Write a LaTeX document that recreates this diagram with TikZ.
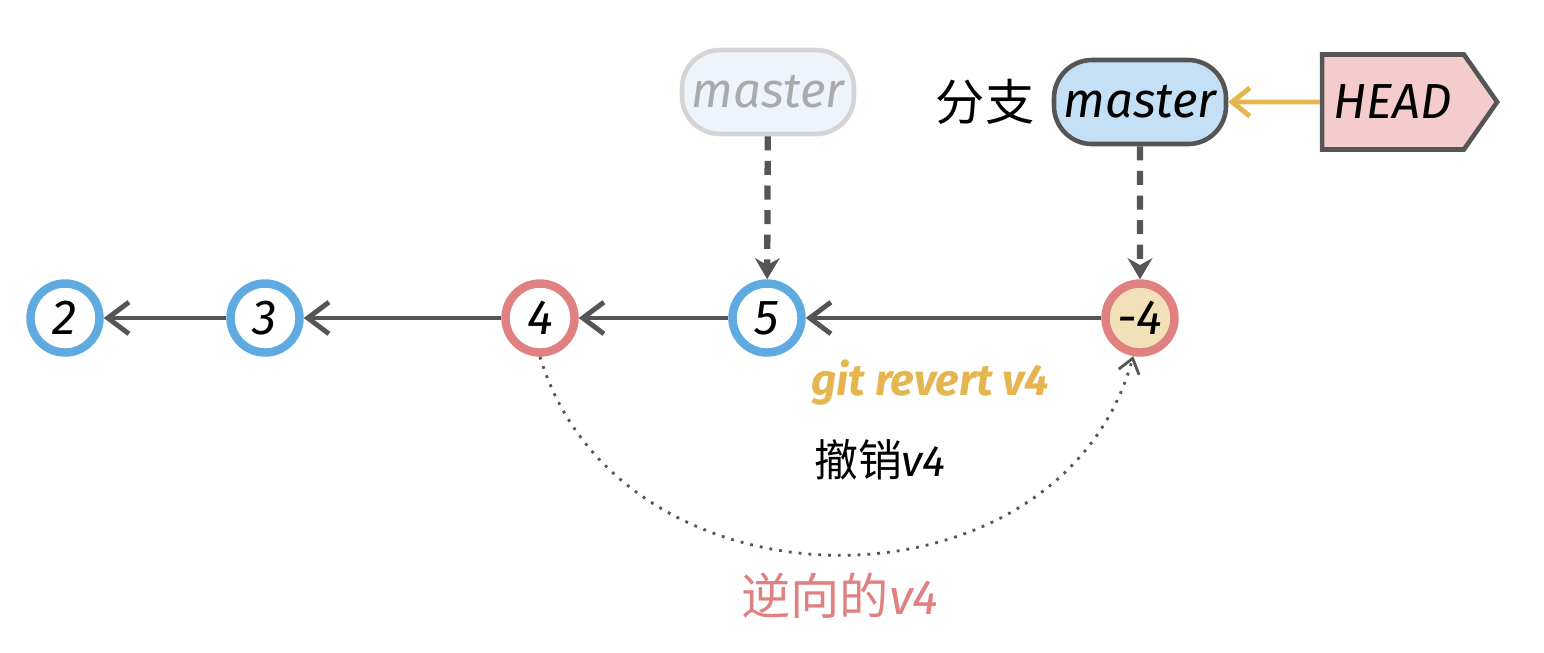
\documentclass[tikz,border=0pt]{standalone}
\usepackage{fontspec}
\setmainfont{Fira Sans}
\newfontfamily\cjk{Noto Sans CJK SC}
\usepackage{tikz}
\usetikzlibrary{arrows.meta,shapes.symbols}
\definecolor{ringblue}{RGB}{95,170,225}
\definecolor{ringred}{RGB}{225,128,128}
\definecolor{revfill}{RGB}{242,224,184}
\definecolor{linegray}{RGB}{85,85,85}
\definecolor{brfill}{RGB}{197,224,245}
\definecolor{ghostfill}{RGB}{237,244,251}
\definecolor{ghostline}{RGB}{212,212,212}
\definecolor{headfill}{RGB}{245,204,204}
\definecolor{cmdyellow}{RGB}{229,181,80}

\begin{document}
\begin{tikzpicture}[scale=0.2]
\tikzstyle{every node}+=[inner sep=0pt, font=\fontsize{14}{16}\selectfont\itshape]
\tikzstyle{commit}=[circle, draw, line width=2.4pt, fill=white, minimum size=0.69cm]
\tikzstyle{branch}=[rectangle, rounded corners=0.38cm, line width=1.3pt, minimum width=1.72cm, minimum height=0.84cm]
\tikzstyle{parent}=[draw=linegray, line width=1.4pt, -{Straight Barb[length=6pt,width=9pt]}]
\tikzstyle{points}=[draw=linegray, line width=1.8pt, dash pattern=on 4pt off 3pt, -{Stealth[length=6pt,width=7pt]}]
\useasboundingbox (0,0) rectangle (77.2,-32.6);
% commits
\node [commit, draw=ringblue] (c2) at (3.25,-15.9) {2};
\node [commit, draw=ringblue] (c3) at (13.25,-15.9) {3};
\node [commit, draw=ringred] (c4) at (27,-15.9) {4};
\node [commit, draw=ringblue] (c5) at (38.35,-15.9) {5};
\node [commit, draw=ringred, fill=revfill] (crev) at (57,-15.9) {-4};
% branches
\node [branch, draw=ghostline, fill=ghostfill, text=ghostline!80!black] (oldmaster) at (38.4,-4.6) {master};
\node [branch, draw=linegray, fill=brfill] (master) at (57,-5.1) {master};
\node [signal, signal to=east, signal pointer angle=110, draw=linegray, fill=headfill, line width=1.3pt, minimum width=1.75cm, minimum height=0.95cm] (head) at (69.65,-5.1) {HEAD};
\node (brlabel) at (49.25,-5.1) {\cjk\upshape 分支};
% edges
\draw [parent] (c3) -- (c2);
\draw [parent] (c4) -- (c3);
\draw [parent] (c5) -- (c4);
\draw [parent] (crev) -- (c5);
\draw [points] (oldmaster) -- (c5);
\draw [points] (master) -- (crev);
\draw [cmdyellow, line width=1.4pt, -{Straight Barb[length=5pt,width=8pt]}] (head) -- (master);
\draw [linegray, line width=0.8pt, dotted, -{Straight Barb[length=4pt,width=6pt]}] (c4.south) .. controls (31,-31.05) and (53,-31.05) .. (crev.-100);
% labels
\node [text=cmdyellow, font=\fontsize{12.5}{15}\selectfont\bfseries\itshape] (cmd) at (46.5,-19.15) {git revert v4};
\node [font=\fontsize{12.5}{15}\selectfont\itshape] (undo) at (44,-23) {{\cjk\upshape 撤销}v4};
\node [text=ringred, font=\fontsize{14}{16}\selectfont\itshape] (inverse) at (42,-29.8) {{\cjk\upshape 逆向的}v4};
\end{tikzpicture}
\end{document}
